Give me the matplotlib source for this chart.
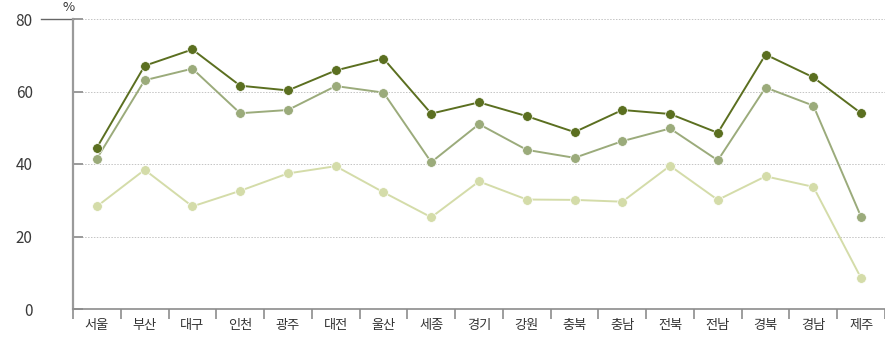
import numpy as np
import matplotlib
matplotlib.use("Agg")
import matplotlib.pyplot as plt

plt.rcParams['font.family'] = ['Noto Sans CJK KR', 'DejaVu Sans']

regions = ["서울", "부산", "대구", "인천", "광주", "대전", "울산", "세종", "경기",
           "강원", "충북", "충남", "전북", "전남", "경북", "경남", "제주"]

series_dark = [44.5, 67.1, 71.6, 61.6, 60.3, 65.8, 69.1, 53.9, 57.0,
               53.2, 48.8, 54.9, 53.8, 48.6, 70.2, 63.9, 54.0]
series_mid = [41.5, 63.1, 66.3, 54.0, 54.9, 61.5, 59.7, 40.5, 51.0,
              43.9, 41.7, 46.3, 49.8, 41.0, 61.1, 56.1, 25.4]
series_light = [28.3, 38.4, 28.3, 32.6, 37.4, 39.4, 32.2, 25.3, 35.2,
                30.2, 30.1, 29.6, 39.5, 30.1, 36.6, 33.7, 8.5]

yticks = [0, 20, 40, 60, 80]

W, H = 885, 337
fig = plt.figure(figsize=(W / 100, H / 100), dpi=100)
ax = fig.add_axes([73 / W, 28 / H, (W - 73) / W, 290 / H])

x = np.arange(len(regions))
styles = [
    (series_light, "#d4dca9", 1),
    (series_mid, "#9bab7b", 2),
    (series_dark, "#5b6f20", 3),
]
for vals, col, z in styles:
    ax.plot(x, vals, color=col, lw=1.4, marker="o", ms=7,
            markeredgecolor="white", markeredgewidth=0.5, zorder=z + 2)

ax.set_xlim(-0.5, -0.5 + (W - 73) / 47.94)
ax.set_ylim(0, 80)

# spines
for s in ["top", "right"]:
    ax.spines[s].set_visible(False)
ax.spines["left"].set_color("#9a9a9a")
ax.spines["left"].set_linewidth(1.6)
ax.spines["bottom"].set_color("#8c8c8c")
ax.spines["bottom"].set_linewidth(1.2)

# y axis: inward ticks, dotted grid
ax.set_yticks(yticks)
ax.set_yticklabels([str(v) for v in yticks])
ax.tick_params(axis="y", direction="in", length=7, width=1.4, color="#9a9a9a",
               pad=29, labelsize=11, labelcolor="#3a3a3a")
ax.yaxis.grid(True, color="#c4c4c4", lw=0.7, linestyle=(0, (1.5, 1.5)), zorder=0)
ax.set_axisbelow(True)
ax.plot([-32 / (W - 73), 0], [80, 80], color="#666666", lw=1.0,
        transform=ax.get_yaxis_transform(), clip_on=False)
ax.text(2 / (W - 73), 81.3, "%", transform=ax.get_yaxis_transform(),
        ha="right", va="bottom", fontsize=9.5, color="#333333")

# x axis: labels at centers, ticks between categories
ax.set_xticks(x)
ax.set_xticklabels(regions)
ax.set_xticks(np.arange(len(regions) + 1) - 0.5, minor=True)
ax.tick_params(axis="x", which="major", length=0, pad=7, labelsize=9.5,
               labelcolor="#333333")
ax.tick_params(axis="x", which="minor", direction="out", length=7, width=1.2,
               color="#8c8c8c")

fig.savefig("out.png", dpi=100)
